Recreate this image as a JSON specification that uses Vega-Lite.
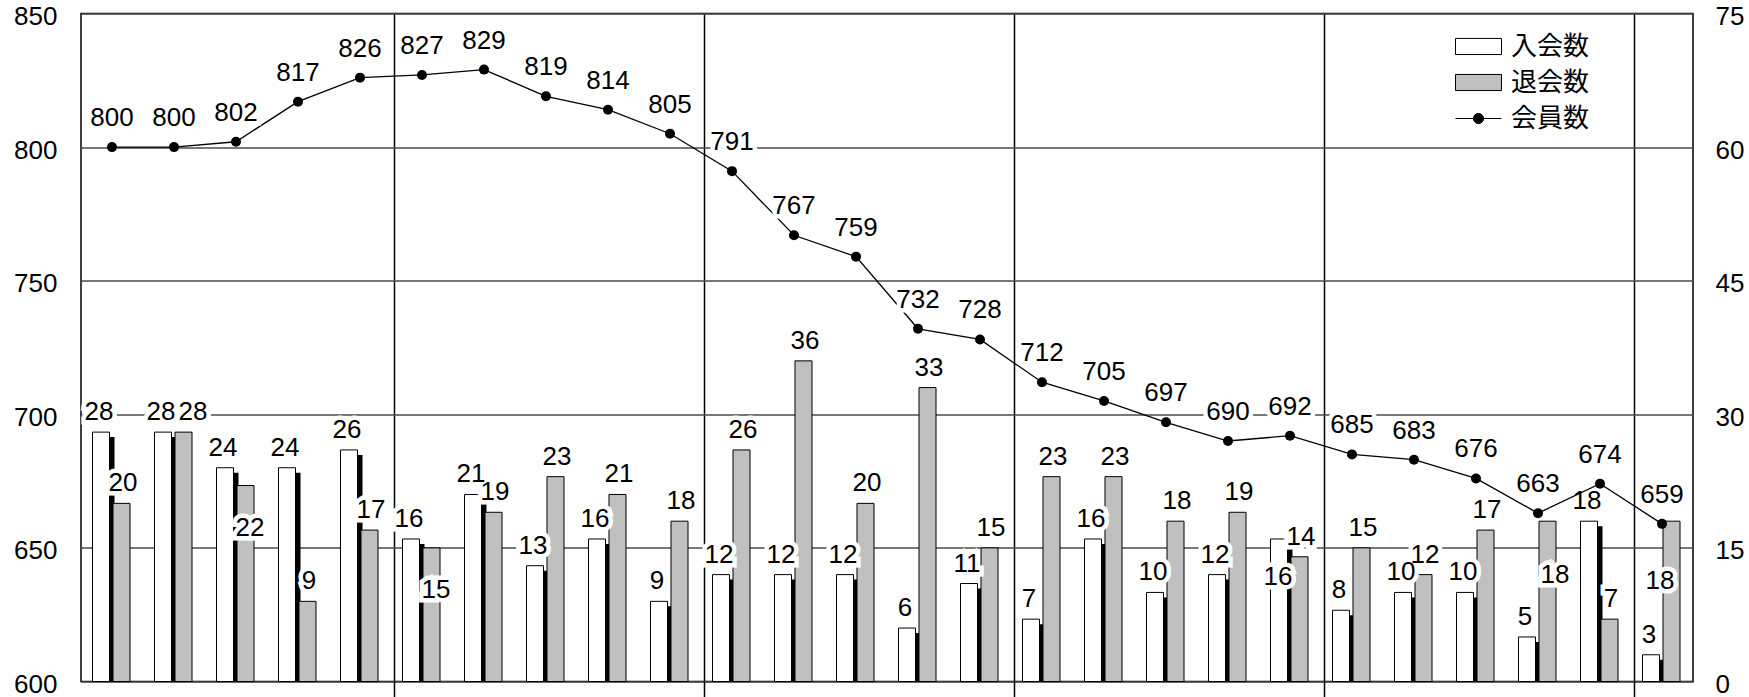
{
  "$schema": "https://vega.github.io/schema/vega-lite/v6.json",
  "width": 1612,
  "height": 668,
  "autosize": {"type": "none"},
  "padding": {"left": 81, "top": 13.5, "right": 56, "bottom": 15.5},
  "background": "white",
  "config": {
    "view": {"stroke": "black", "strokeWidth": 1.5},
    "font": "Liberation Sans",
    "axis": {"labelFont": "Liberation Sans", "labelFontSize": 26, "labelColor": "black"},
    "text": {"font": "Liberation Sans", "fontSize": 26, "color": "black"}
  },
  "data": {
    "values": [
      {"i": 1, "members": 800, "join": 28, "leave": 20},
      {"i": 2, "members": 800, "join": 28, "leave": 28},
      {"i": 3, "members": 802, "join": 24, "leave": 22},
      {"i": 4, "members": 817, "join": 24, "leave": 9},
      {"i": 5, "members": 826, "join": 26, "leave": 17},
      {"i": 6, "members": 827, "join": 16, "leave": 15},
      {"i": 7, "members": 829, "join": 21, "leave": 19},
      {"i": 8, "members": 819, "join": 13, "leave": 23},
      {"i": 9, "members": 814, "join": 16, "leave": 21},
      {"i": 10, "members": 805, "join": 9, "leave": 18},
      {"i": 11, "members": 791, "join": 12, "leave": 26},
      {"i": 12, "members": 767, "join": 12, "leave": 36},
      {"i": 13, "members": 759, "join": 12, "leave": 20},
      {"i": 14, "members": 732, "join": 6, "leave": 33},
      {"i": 15, "members": 728, "join": 11, "leave": 15},
      {"i": 16, "members": 712, "join": 7, "leave": 23},
      {"i": 17, "members": 705, "join": 16, "leave": 23},
      {"i": 18, "members": 697, "join": 10, "leave": 18},
      {"i": 19, "members": 690, "join": 12, "leave": 19},
      {"i": 20, "members": 692, "join": 16, "leave": 14},
      {"i": 21, "members": 685, "join": 8, "leave": 15},
      {"i": 22, "members": 683, "join": 10, "leave": 12},
      {"i": 23, "members": 676, "join": 10, "leave": 17},
      {"i": 24, "members": 663, "join": 5, "leave": 18},
      {"i": 25, "members": 674, "join": 18, "leave": 7},
      {"i": 26, "members": 659, "join": 3, "leave": 18}
    ]
  },
  "encoding": {
    "x": {
      "field": "i", "type": "ordinal",
      "scale": {"paddingInner": 0, "paddingOuter": 0},
      "axis": {"values": [6, 11, 16, 21, 26], "bandPosition": 0.06, "grid": true, "gridColor": "black", "gridWidth": 1.5, "gridOpacity": 1, "ticks": true, "tickSize": 16, "tickColor": "black", "tickWidth": 1.5, "labels": false, "domain": false, "title": null}
    }
  },
  "layer": [
    {
      "layer": [
        {
          "mark": {"type": "bar", "width": 17, "xOffset": -6, "yOffset": 5, "fill": "black", "clip": true},
          "encoding": {"y": {"field": "join", "type": "quantitative", "scale": {"domain": [0, 75]}, "axis": {"orient": "right", "values": [0, 15, 30, 45, 60, 75], "grid": false, "domain": false, "ticks": false, "labelPadding": 22, "labelOffset": 3, "title": null}}}
        },
        {
          "mark": {"type": "bar", "width": 17, "xOffset": -11, "fill": "white", "stroke": "black", "strokeWidth": 1},
          "encoding": {"y": {"field": "join", "type": "quantitative", "scale": {"domain": [0, 75]}, "axis": {"orient": "right", "values": [0, 15, 30, 45, 60, 75], "grid": false, "domain": false, "ticks": false, "labelPadding": 22, "labelOffset": 3, "title": null}}}
        },
        {
          "mark": {"type": "bar", "width": 17, "xOffset": 9.5, "fill": "#c0c0c0", "stroke": "black", "strokeWidth": 1},
          "encoding": {"y": {"field": "leave", "type": "quantitative", "scale": {"domain": [0, 75]}, "axis": {"orient": "right", "values": [0, 15, 30, 45, 60, 75], "grid": false, "domain": false, "ticks": false, "labelPadding": 22, "labelOffset": 3, "title": null}}}
        },
        {
          "transform": [{"filter": "datum.i != 20"}],
          "mark": {"type": "text", "xOffset": -13, "dy": -12, "baseline": "alphabetic", "fill": "white", "stroke": "white", "strokeWidth": 9, "strokeJoin": "miter"},
          "encoding": {"y": {"field": "join", "type": "quantitative", "scale": {"domain": [0, 75]}, "axis": {"orient": "right", "values": [0, 15, 30, 45, 60, 75], "grid": false, "domain": false, "ticks": false, "labelPadding": 22, "labelOffset": 3, "title": null}}, "text": {"field": "join", "type": "quantitative"}}
        },
        {
          "transform": [{"filter": "datum.i == 20"}],
          "mark": {"type": "text", "xOffset": -12, "dy": 46, "baseline": "alphabetic", "fill": "white", "stroke": "white", "strokeWidth": 9, "strokeJoin": "miter"},
          "encoding": {"y": {"field": "join", "type": "quantitative", "scale": {"domain": [0, 75]}, "axis": {"orient": "right", "values": [0, 15, 30, 45, 60, 75], "grid": false, "domain": false, "ticks": false, "labelPadding": 22, "labelOffset": 3, "title": null}}, "text": {"field": "join", "type": "quantitative"}}
        },
        {
          "transform": [{"filter": "datum.i != 2 && datum.i != 3 && datum.i != 6 && datum.i != 24 && datum.i != 26"}],
          "mark": {"type": "text", "xOffset": 11, "dy": -12, "baseline": "alphabetic", "fill": "white", "stroke": "white", "strokeWidth": 9, "strokeJoin": "miter"},
          "encoding": {"y": {"field": "leave", "type": "quantitative", "scale": {"domain": [0, 75]}, "axis": {"orient": "right", "values": [0, 15, 30, 45, 60, 75], "grid": false, "domain": false, "ticks": false, "labelPadding": 22, "labelOffset": 3, "title": null}}, "text": {"field": "leave", "type": "quantitative"}}
        },
        {
          "transform": [{"filter": "datum.i == 2"}],
          "mark": {"type": "text", "xOffset": 19, "dy": -12, "baseline": "alphabetic", "fill": "white", "stroke": "white", "strokeWidth": 9, "strokeJoin": "miter"},
          "encoding": {"y": {"field": "leave", "type": "quantitative", "scale": {"domain": [0, 75]}, "axis": {"orient": "right", "values": [0, 15, 30, 45, 60, 75], "grid": false, "domain": false, "ticks": false, "labelPadding": 22, "labelOffset": 3, "title": null}}, "text": {"field": "leave", "type": "quantitative"}}
        },
        {
          "transform": [{"filter": "datum.i == 3 || datum.i == 6"}],
          "mark": {"type": "text", "xOffset": 14, "dy": 50, "baseline": "alphabetic", "fill": "white", "stroke": "white", "strokeWidth": 9, "strokeJoin": "miter"},
          "encoding": {"y": {"field": "leave", "type": "quantitative", "scale": {"domain": [0, 75]}, "axis": {"orient": "right", "values": [0, 15, 30, 45, 60, 75], "grid": false, "domain": false, "ticks": false, "labelPadding": 22, "labelOffset": 3, "title": null}}, "text": {"field": "leave", "type": "quantitative"}}
        },
        {
          "transform": [{"filter": "datum.i == 24"}],
          "mark": {"type": "text", "xOffset": 17, "dy": 62, "baseline": "alphabetic", "fill": "white", "stroke": "white", "strokeWidth": 9, "strokeJoin": "miter"},
          "encoding": {"y": {"field": "leave", "type": "quantitative", "scale": {"domain": [0, 75]}, "axis": {"orient": "right", "values": [0, 15, 30, 45, 60, 75], "grid": false, "domain": false, "ticks": false, "labelPadding": 22, "labelOffset": 3, "title": null}}, "text": {"field": "leave", "type": "quantitative"}}
        },
        {
          "transform": [{"filter": "datum.i == 26"}],
          "mark": {"type": "text", "xOffset": -2, "dy": 68, "baseline": "alphabetic", "fill": "white", "stroke": "white", "strokeWidth": 9, "strokeJoin": "miter"},
          "encoding": {"y": {"field": "leave", "type": "quantitative", "scale": {"domain": [0, 75]}, "axis": {"orient": "right", "values": [0, 15, 30, 45, 60, 75], "grid": false, "domain": false, "ticks": false, "labelPadding": 22, "labelOffset": 3, "title": null}}, "text": {"field": "leave", "type": "quantitative"}}
        },
        {
          "transform": [{"filter": "datum.i != 20"}],
          "mark": {"type": "text", "xOffset": -13, "dy": -12, "baseline": "alphabetic"},
          "encoding": {"y": {"field": "join", "type": "quantitative", "scale": {"domain": [0, 75]}, "axis": {"orient": "right", "values": [0, 15, 30, 45, 60, 75], "grid": false, "domain": false, "ticks": false, "labelPadding": 22, "labelOffset": 3, "title": null}}, "text": {"field": "join", "type": "quantitative"}}
        },
        {
          "transform": [{"filter": "datum.i == 20"}],
          "mark": {"type": "text", "xOffset": -12, "dy": 46, "baseline": "alphabetic"},
          "encoding": {"y": {"field": "join", "type": "quantitative", "scale": {"domain": [0, 75]}, "axis": {"orient": "right", "values": [0, 15, 30, 45, 60, 75], "grid": false, "domain": false, "ticks": false, "labelPadding": 22, "labelOffset": 3, "title": null}}, "text": {"field": "join", "type": "quantitative"}}
        },
        {
          "transform": [{"filter": "datum.i != 2 && datum.i != 3 && datum.i != 6 && datum.i != 24 && datum.i != 26"}],
          "mark": {"type": "text", "xOffset": 11, "dy": -12, "baseline": "alphabetic"},
          "encoding": {"y": {"field": "leave", "type": "quantitative", "scale": {"domain": [0, 75]}, "axis": {"orient": "right", "values": [0, 15, 30, 45, 60, 75], "grid": false, "domain": false, "ticks": false, "labelPadding": 22, "labelOffset": 3, "title": null}}, "text": {"field": "leave", "type": "quantitative"}}
        },
        {
          "transform": [{"filter": "datum.i == 2"}],
          "mark": {"type": "text", "xOffset": 19, "dy": -12, "baseline": "alphabetic"},
          "encoding": {"y": {"field": "leave", "type": "quantitative", "scale": {"domain": [0, 75]}, "axis": {"orient": "right", "values": [0, 15, 30, 45, 60, 75], "grid": false, "domain": false, "ticks": false, "labelPadding": 22, "labelOffset": 3, "title": null}}, "text": {"field": "leave", "type": "quantitative"}}
        },
        {
          "transform": [{"filter": "datum.i == 3 || datum.i == 6"}],
          "mark": {"type": "text", "xOffset": 14, "dy": 50, "baseline": "alphabetic"},
          "encoding": {"y": {"field": "leave", "type": "quantitative", "scale": {"domain": [0, 75]}, "axis": {"orient": "right", "values": [0, 15, 30, 45, 60, 75], "grid": false, "domain": false, "ticks": false, "labelPadding": 22, "labelOffset": 3, "title": null}}, "text": {"field": "leave", "type": "quantitative"}}
        },
        {
          "transform": [{"filter": "datum.i == 24"}],
          "mark": {"type": "text", "xOffset": 17, "dy": 62, "baseline": "alphabetic"},
          "encoding": {"y": {"field": "leave", "type": "quantitative", "scale": {"domain": [0, 75]}, "axis": {"orient": "right", "values": [0, 15, 30, 45, 60, 75], "grid": false, "domain": false, "ticks": false, "labelPadding": 22, "labelOffset": 3, "title": null}}, "text": {"field": "leave", "type": "quantitative"}}
        },
        {
          "transform": [{"filter": "datum.i == 26"}],
          "mark": {"type": "text", "xOffset": -2, "dy": 68, "baseline": "alphabetic"},
          "encoding": {"y": {"field": "leave", "type": "quantitative", "scale": {"domain": [0, 75]}, "axis": {"orient": "right", "values": [0, 15, 30, 45, 60, 75], "grid": false, "domain": false, "ticks": false, "labelPadding": 22, "labelOffset": 3, "title": null}}, "text": {"field": "leave", "type": "quantitative"}}
        }
      ]
    },
    {
      "encoding": {
        "y": {"field": "members", "type": "quantitative", "scale": {"domain": [600, 850]}, "axis": {"orient": "left", "values": [600, 650, 700, 750, 800, 850], "grid": true, "gridColor": "#4a4a4a", "gridWidth": 1.5, "gridOpacity": 1, "domain": false, "ticks": false, "labelPadding": 24, "labelOffset": 3, "title": null}}
      },
      "layer": [
        {
          "mark": {"type": "line", "color": "black", "strokeWidth": 1.3}
        },
        {
          "mark": {"type": "text", "dy": -21, "baseline": "alphabetic", "fill": "white", "stroke": "white", "strokeWidth": 9, "strokeJoin": "miter"},
          "encoding": {"text": {"field": "members", "type": "quantitative"}}
        },
        {
          "mark": {"type": "point", "filled": true, "color": "black", "size": 100, "opacity": 1}
        },
        {
          "mark": {"type": "text", "dy": -21, "baseline": "alphabetic"},
          "encoding": {"text": {"field": "members", "type": "quantitative"}}
        },
        {
          "mark": {"type": "point", "filled": true, "opacity": 0},
          "encoding": {
            "fill": {
              "datum": "会員数", "type": "nominal",
              "scale": {"domain": ["入会数", "退会数", "会員数"], "range": ["white", "#c0c0c0", "black"]},
              "legend": {"title": null, "orient": "none", "legendX": 1374, "legendY": 18, "padding": 0, "symbolSize": 2116, "symbolStrokeColor": "black", "symbolStrokeWidth": 1, "symbolOpacity": 1, "clipHeight": 30, "rowPadding": 6, "labelFont": "Noto Sans CJK JP", "labelFontSize": 26, "labelColor": "black", "labelOffset": 9,
                "encode": {"symbols": {"update": {"stroke": {"value": "black"}, "strokeWidth": {"value": 1}, "opacity": {"value": 1}}}}}
            },
            "shape": {
              "datum": "会員数", "type": "nominal",
              "scale": {"domain": ["入会数", "退会数", "会員数"], "range": ["M-1,-0.35L1,-0.35L1,0.35L-1,0.35Z", "M-1,-0.35L1,-0.35L1,0.35L-1,0.35Z", "M-1,0L1,0M-0.22,0A0.22,0.22,0,1,1,0.22,0A0.22,0.22,0,1,1,-0.22,0Z"]},
              "legend": {"title": null, "orient": "none", "legendX": 1374, "legendY": 18, "padding": 0, "symbolSize": 2116, "symbolStrokeColor": "black", "symbolStrokeWidth": 1, "symbolOpacity": 1, "clipHeight": 30, "rowPadding": 6, "labelFont": "Noto Sans CJK JP", "labelFontSize": 26, "labelColor": "black", "labelOffset": 9,
                "encode": {"symbols": {"update": {"stroke": {"value": "black"}, "strokeWidth": {"value": 1}, "opacity": {"value": 1}}}}}
            }
          }
        }
      ]
    }
  ],
  "resolve": {"scale": {"y": "independent"}}
}
